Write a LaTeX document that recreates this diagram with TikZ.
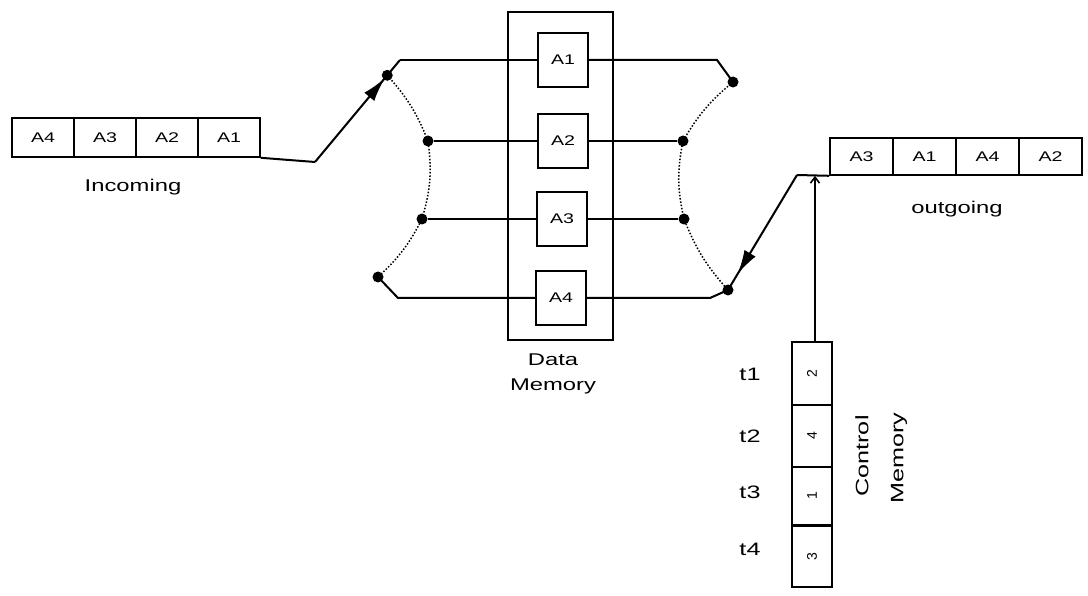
\documentclass[tikz,border=0pt]{standalone}
\usepackage{fontspec}
\setmainfont{Liberation Sans}
\usetikzlibrary{arrows.meta,decorations.markings}
\newcommand{\mystretch}[1]{\scalebox{1.4}[1]{#1}}
\begin{document}
\begin{tikzpicture}[x=1pt,y=-1pt,
  cell/.style={draw, line width=1.6pt, minimum width=62pt, minimum height=39pt, inner sep=0pt, font=\fontsize{14}{16}\selectfont},
  ocell/.style={cell, minimum width=63pt, minimum height=37pt},
  mem/.style={draw, line width=1.6pt, minimum width=50pt, minimum height=54pt, inner sep=0pt, font=\fontsize{14}{16}\selectfont},
  ctl/.style={draw, line width=1.6pt, minimum width=40pt, inner sep=0pt, font=\fontsize{14}{16}\selectfont},
  dot/.style={circle, fill, inner sep=0pt, minimum size=11pt},
  wire/.style={line width=2pt},
  sw/.style={dash pattern=on 1.5pt off 1.8pt, line width=1.5pt},
  lbl/.style={font=\fontsize{17}{20}\selectfont, inner sep=0pt},
  tlbl/.style={font=\fontsize{18}{21}\selectfont, inner sep=0pt},
  midarrow/.style={postaction={decorate}, decoration={markings, mark=at position #1 with {\arrow{Latex[length=24pt,width=13pt]}}}}
]
\useasboundingbox (0,0) rectangle (1088,596);

% incoming frame
\node[cell] (i4) at (43,137.5) {\mystretch{A4}};
\node[cell] (i3) at (105,137.5) {\mystretch{A3}};
\node[cell] (i2) at (167,137.5) {\mystretch{A2}};
\node[cell] (i1) at (229,137.5) {\mystretch{A1}};
\node[lbl] (inc) at (133,187) {\mystretch{Incoming}};

% outgoing frame
\node[ocell] (o3) at (861.5,156.5) {\mystretch{A3}};
\node[ocell] (o1) at (924.5,156.5) {\mystretch{A1}};
\node[ocell] (o4) at (987.5,156.5) {\mystretch{A4}};
\node[ocell] (o2) at (1050.5,156.5) {\mystretch{A2}};
\node[lbl] (outg) at (957,209) {\mystretch{outgoing}};

% data memory
\node[draw, line width=1.6pt, minimum width=105pt, minimum height=328pt, inner sep=0pt] (dm) at (560.5,176) {};
\node[mem] (A1) at (563,60) {\mystretch{A1}};
\node[mem] (A2) at (563,141) {\mystretch{A2}};
\node[mem] (A3) at (562,219) {\mystretch{A3}};
\node[mem] (A4) at (561,298) {\mystretch{A4}};
\node[lbl] (dmt1) at (553,360) {\mystretch{Data}};
\node[lbl] (dmt2) at (553,386) {\mystretch{Memory}};

% control memory
\node[ctl, minimum height=63pt] (c1) at (812,373.5) {\rotatebox{90}{2}};
\node[ctl, minimum height=62pt] (c2) at (812,436) {\rotatebox{90}{4}};
\node[ctl, minimum height=58pt] (c3) at (812,496) {\rotatebox{90}{1}};
\node[ctl, minimum height=61pt] (c4) at (812,556.5) {\rotatebox{90}{3}};
\node[tlbl] (t1) at (750,374) {\mystretch{t1}};
\node[tlbl] (t2) at (750,436) {\mystretch{t2}};
\node[tlbl] (t3) at (750,492) {\mystretch{t3}};
\node[tlbl] (t4) at (750,549) {\mystretch{t4}};
\node[tlbl, rotate=90] (cm1) at (862,456) {\mystretch{Control}};
\node[tlbl, rotate=90] (cm2) at (899,458) {\mystretch{Memory}};

% switch dots
\node[dot] (L1) at (387.25,75.3) {};
\node[dot] (L2) at (428,141) {};
\node[dot] (L3) at (422,219) {};
\node[dot] (L4) at (378,277) {};
\node[dot] (R1) at (733,82) {};
\node[dot] (R2) at (683,141) {};
\node[dot] (R3) at (684,219) {};
\node[dot] (R4) at (728,290) {};

\coordinate (P0) at (315,162);
\coordinate (P1) at (400,60);
\coordinate (P2) at (398,298);
\coordinate (Q1) at (797,175);
\coordinate (Q2) at (717,60);
\coordinate (Q3) at (710,298);

% input side
\draw[wire] (i1.south east) -- (P0);
\draw[wire, midarrow=0.82] (P0) -- (P1);
\draw[wire] (P1) -- (A1.west);
\draw[wire] (L2) -- (A2.west);
\draw[wire] (L3) -- (A3.west);
\draw[wire] (L4.center) -- (P2) -- (A4.west);

% output side
\draw[wire] (A1.east) -- (Q2) -- (R1.center);
\draw[wire] (A2.east) -- (R2);
\draw[wire] (A3.east) -- (R3);
\draw[wire] (A4.east) -- (Q3) -- (R4.center);
\draw[wire] (o3.south west) -- (Q1);
\draw[wire, midarrow=0.86] (Q1) -- (R4.center);

% dotted switch arcs
\draw[sw] (L1.center) to[bend left=10] (L2.center) to[bend left=12] (L3.center) to[bend left=10] (L4.center);
\draw[sw] (R1.center) to[bend right=10] (R2.center) to[bend right=12] (R3.center) to[bend right=10] (R4.center);

% control arrow
\draw[line width=1.6pt, -{Straight Barb[length=6pt,width=9pt]}] ([xshift=3pt]c1.north) -- ([xshift=3pt]c1.north |- o3.south);
\end{tikzpicture}
\end{document}
